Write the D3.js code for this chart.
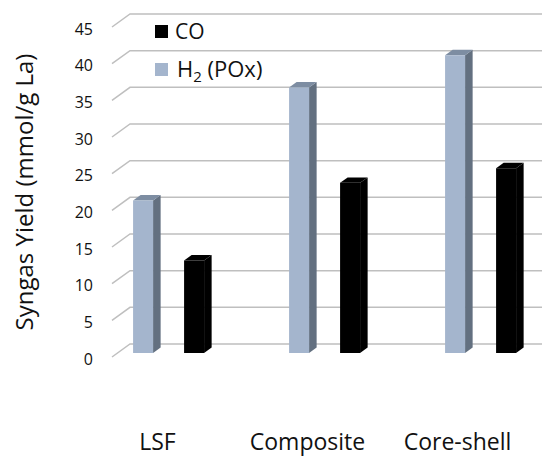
<!DOCTYPE html>
<html>
<head>
<meta charset="utf-8">
<script src="https://cdn.jsdelivr.net/npm/d3@7"></script>
<style>
    body { margin: 0; background: #fff; }
    svg { display: block; font-family: "Open Sans", sans-serif; }
</style>
</head>
<body>
<svg id="chart" width="542" height="457"></svg>
<script>
'use strict';

var categories = ["LSF", "Composite", "Core-shell"];
var seriesNames = ["H2", "CO"];
var h2Values = [20.8, 36.2, 40.6];
var coValues = [12.6, 23.2, 25.2];
var yTicks = [0, 5, 10, 15, 20, 25, 30, 35, 40, 45];

var width = 542, height = 457;
var wallLeft = 130, wallTop = 14, wallBottom = 344;
var depth = {x: -18, y: 13};      // back wall -> front edge of floor
var barZ = [0.27, 0.69];          // bar back / front, share of floor depth

var svg = d3.select("#chart");

var y = d3.scaleLinear().domain([0, 45]).range([wallBottom, wallTop]);
var x0 = d3.scaleBand().domain(categories).range([wallLeft, wallLeft + 156 * categories.length]);
var x1 = d3.scaleBand().domain(seriesNames).range([15.5, 86.5]).paddingInner(0.608);
var xLabel = d3.scalePoint().domain(categories).range([157.5, 457.5]);

var colors = {
    H2: {front: "#a4b5cd", side: "#637080", top: "#7d8da2"},
    CO: {front: "#000000", side: "#000000", top: "#000000"}
};

function pt(xb, v, z) {
    return [xb + depth.x * z, y(v) + depth.y * z];
}

// gridlines on back wall and their floor diagonals
var grid = svg.append("g");
yTicks.forEach(function (t) {
    var front = pt(wallLeft, t, 1);
    grid.append("path")
        .attr("d", "M" + front[0] + "," + front[1] + "L" + wallLeft + "," + y(t) + "H" + width)
        .attr("fill", "none")
        .attr("stroke", "#bfbfbf")
        .attr("stroke-width", 1.5);
    grid.append("text")
        .attr("x", 93)
        .attr("y", front[1] + 2)
        .attr("dy", "0.35em")
        .attr("text-anchor", "end")
        .attr("font-size", 16)
        .attr("fill", "#111")
        .text(t);
});

// bars
var barData = [];
categories.forEach(function (c, i) {
    barData.push({cat: c, s: "H2", v: h2Values[i]});
    barData.push({cat: c, s: "CO", v: coValues[i]});
});

var bars = svg.append("g").selectAll("g").data(barData).enter().append("g");

function poly(pts) {
    return "M" + pts.map(function (p) { return p.join(","); }).join("L") + "Z";
}

bars.each(function (d) {
    var g = d3.select(this);
    var xl = x0(d.cat) + x1(d.s);
    var xr = xl + x1.bandwidth();
    var zb = barZ[0], zf = barZ[1];
    var c = colors[d.s];
    // side
    g.append("path")
        .attr("d", poly([pt(xr, 0, zf), pt(xr, d.v, zf), pt(xr, d.v, zb), pt(xr, 0, zb)]))
        .attr("fill", c.side);
    // top
    g.append("path")
        .attr("d", poly([pt(xl, d.v, zf), pt(xr, d.v, zf), pt(xr, d.v, zb), pt(xl, d.v, zb)]))
        .attr("fill", c.top);
    // front
    g.append("path")
        .attr("d", poly([pt(xl, 0, zf), pt(xr, 0, zf), pt(xr, d.v, zf), pt(xl, d.v, zf)]))
        .attr("fill", c.front);
});

// category labels
svg.append("g").selectAll("text").data(categories).enter().append("text")
    .attr("x", function (d) { return xLabel(d); })
    .attr("y", 450)
    .attr("text-anchor", "middle")
    .attr("font-size", 23)
    .attr("fill", "#111")
    .text(function (d) { return d; });

// y axis title
svg.append("text")
    .attr("transform", "translate(33,192) rotate(-90)")
    .attr("text-anchor", "middle")
    .attr("font-size", 24)
    .attr("fill", "#111")
    .text("Syngas Yield (mmol/g La)");

// legend
var legend = svg.append("g");
legend.append("rect").attr("x", 155).attr("y", 25).attr("width", 13).attr("height", 13).attr("fill", colors.CO.front);
legend.append("text").attr("x", 175).attr("y", 39).attr("font-size", 21).attr("fill", "#111").text("CO");
legend.append("rect").attr("x", 155).attr("y", 63).attr("width", 13).attr("height", 13).attr("fill", colors.H2.front);
var h2Text = legend.append("text").attr("x", 177).attr("y", 77).attr("font-size", 22).attr("fill", "#111");
h2Text.append("tspan").text("H");
h2Text.append("tspan").attr("font-size", 15).attr("dy", 5).text("2");
h2Text.append("tspan").attr("dy", -5).text(" (POx)");
</script>
</body>
</html>
